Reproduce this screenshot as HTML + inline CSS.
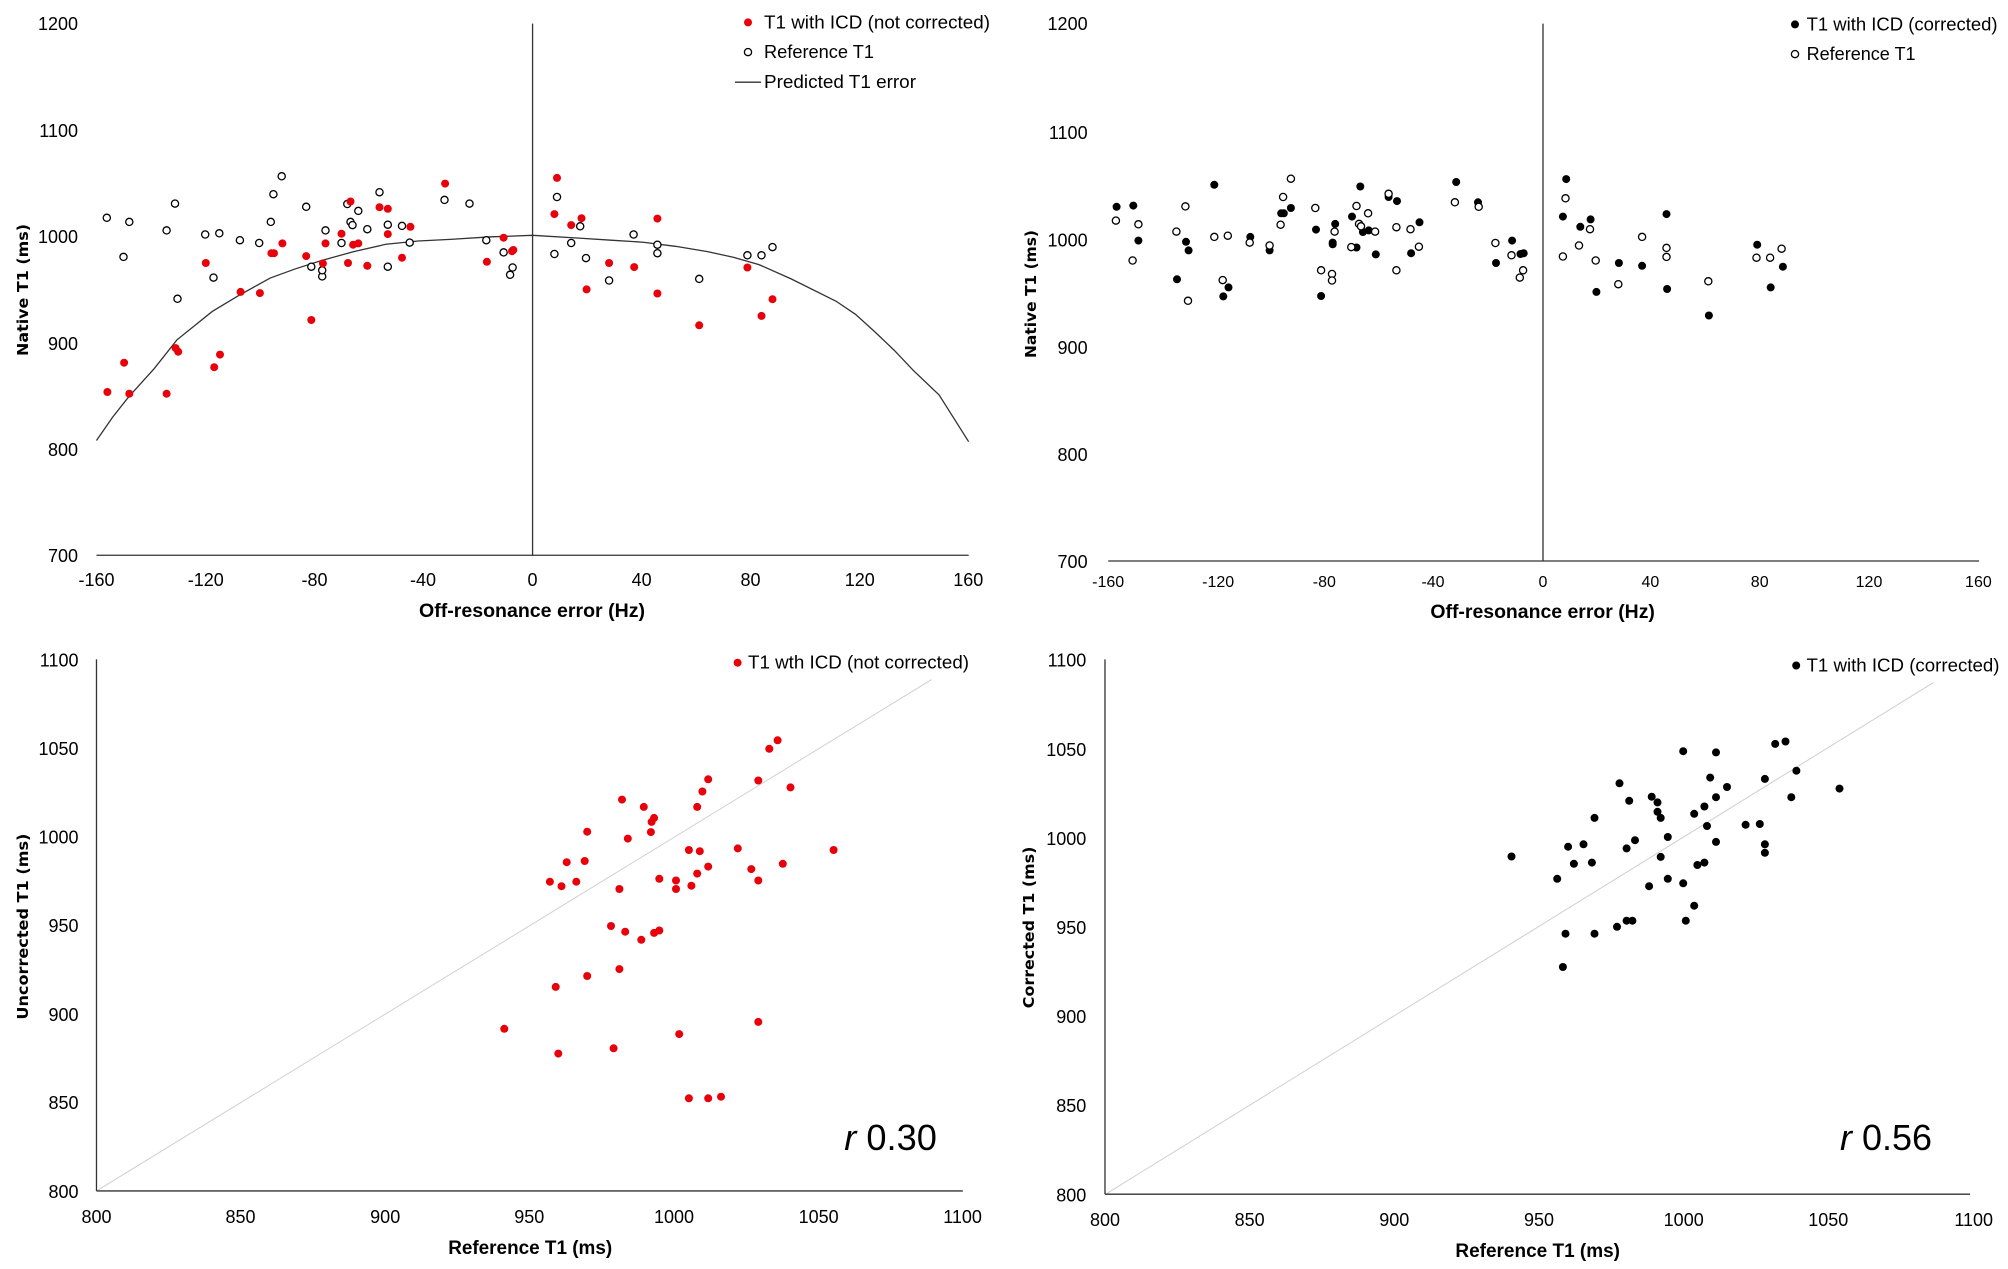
<!DOCTYPE html>
<html><head><meta charset="utf-8"><style>
html,body{margin:0;padding:0;background:#fff;width:2008px;height:1269px;overflow:hidden}
svg{position:absolute;display:block;overflow:hidden}
text{font-family:"Liberation Sans Narrow","Liberation Sans",sans-serif;fill:#000}
.tk{font-size:18px}
.tk2{font-size:16px}
.lg{font-size:18px}
.ti{font-size:19px;font-weight:bold}
.yt{font-family:"DejaVu Sans","Liberation Sans",sans-serif;font-size:15px;font-weight:bold}
.rr{font-size:36px}
.ln{vector-effect:non-scaling-stroke}
</style></head><body>
<svg id="p1" style="left:0;top:0" width="1004" height="635" viewBox="0 0 1004 635">
<g transform="scale(0.6432,0.4071)">
<line class="ln" x1="828" y1="58" x2="828" y2="1365" stroke="#333" stroke-width="1.3"/>
<line class="ln" x1="150" y1="1364" x2="1506" y2="1364" stroke="#333" stroke-width="1.3"/>
<polyline class="ln" fill="none" stroke="#333" stroke-width="1.3" points="150,1082 175,1025 200,975 240,905 275,835 330,765 370,727 420,683 460,660 500,640 550,618 600,600 650,592 700,588 760,582 828,578 900,585 950,590 1000,595 1050,605 1100,618 1140,632 1180,650 1230,685 1300,740 1330,772 1360,815 1390,860 1420,910 1460,970 1506,1085"/>
</g>
<g class="tk" text-anchor="end">
<text x="78" y="30">1200</text><text x="78" y="137">1100</text><text x="78" y="243">1000</text><text x="78" y="350">900</text><text x="78" y="456">800</text><text x="78" y="562">700</text></g>
<g class="tk" text-anchor="middle">
<text x="96.5" y="586">-160</text><text x="205.8" y="586">-120</text><text x="314.5" y="586">-80</text><text x="423" y="586">-40</text><text x="532.5" y="586">0</text><text x="641.7" y="586">40</text><text x="750.5" y="586">80</text><text x="859.8" y="586">120</text><text x="968.3" y="586">160</text></g>
<text class="ti" x="419" y="617" textLength="226" lengthAdjust="spacingAndGlyphs">Off-resonance error (Hz)</text>
<text class="yt" transform="translate(28,356) rotate(-90)" textLength="132" lengthAdjust="spacingAndGlyphs">Native T1 (ms)</text>
<circle cx="748" cy="22.4" r="4" fill="#e8000b"/>
<text class="lg" x="764" y="28.5" textLength="226" lengthAdjust="spacingAndGlyphs">T1 with ICD (not corrected)</text>
<circle cx="748" cy="52.1" r="3.6" fill="#fff" stroke="#000" stroke-width="1.3"/>
<text class="lg" x="764" y="58" textLength="110" lengthAdjust="spacingAndGlyphs">Reference T1</text>
<line x1="735" y1="82.2" x2="761" y2="82.2" stroke="#333" stroke-width="1.3"/>
<text class="lg" x="764" y="88" textLength="152" lengthAdjust="spacingAndGlyphs">Predicted T1 error</text>
</svg>
<svg id="p2" style="left:1004px;top:0" width="1004" height="635" viewBox="0 0 1004 635">
<g transform="scale(0.6432,0.4071)">
<line class="ln" x1="838" y1="58" x2="838" y2="1378" stroke="#333" stroke-width="1.3"/>
<line class="ln" x1="162" y1="1378" x2="1516" y2="1378" stroke="#333" stroke-width="1.3"/>
</g>
<g class="tk" text-anchor="end">
<text x="83.6" y="30">1200</text><text x="83.6" y="139">1100</text><text x="83.6" y="246.5">1000</text><text x="83.6" y="354">900</text><text x="83.6" y="461">800</text><text x="83.6" y="568">700</text></g>
<g class="tk2" text-anchor="middle">
<text x="104.2" y="587">-160</text><text x="214.2" y="587">-120</text><text x="320.3" y="587">-80</text><text x="429" y="587">-40</text><text x="538.9" y="587">0</text><text x="646.4" y="587">40</text><text x="755.7" y="587">80</text><text x="865" y="587">120</text><text x="974.4" y="587">160</text></g>
<text class="ti" x="426.4" y="618" textLength="224.5" lengthAdjust="spacingAndGlyphs">Off-resonance error (Hz)</text>
<text class="yt" transform="translate(32,358) rotate(-90)" textLength="128" lengthAdjust="spacingAndGlyphs">Native T1 (ms)</text>
<circle cx="791" cy="24.4" r="4" fill="#000"/>
<text class="lg" x="802.6" y="30.5" textLength="191" lengthAdjust="spacingAndGlyphs">T1 with ICD (corrected)</text>
<circle cx="791" cy="54.1" r="3.6" fill="#fff" stroke="#000" stroke-width="1.3"/>
<text class="lg" x="802.6" y="60" textLength="109" lengthAdjust="spacingAndGlyphs">Reference T1</text>
</svg>
<svg id="p3" style="left:0;top:635px" width="1004" height="634" viewBox="0 0 1004 634">
<g transform="scale(0.6432,0.4064)">
<line class="ln" x1="152" y1="1366" x2="1448" y2="110" stroke="#d0d0d0" stroke-width="1"/>
<line class="ln" x1="150" y1="60" x2="150" y2="1368" stroke="#333" stroke-width="1.3"/>
<line class="ln" x1="150" y1="1368" x2="1497" y2="1368" stroke="#333" stroke-width="1.3"/>
</g>
<g class="tk" text-anchor="end">
<text x="78.5" y="31.5">1100</text><text x="78.5" y="120">1050</text><text x="78.5" y="208.5">1000</text><text x="78.5" y="297">950</text><text x="78.5" y="386">900</text><text x="78.5" y="474">850</text><text x="78.5" y="563">800</text></g>
<g class="tk" text-anchor="middle">
<text x="96.5" y="588">800</text><text x="240.5" y="588">850</text><text x="385.2" y="588">900</text><text x="529.3" y="588">950</text><text x="674" y="588">1000</text><text x="818.6" y="588">1050</text><text x="962.6" y="588">1100</text></g>
<text class="ti" x="448.2" y="619" textLength="164" lengthAdjust="spacingAndGlyphs">Reference T1 (ms)</text>
<text class="yt" transform="translate(28,384.6) rotate(-90)" textLength="186" lengthAdjust="spacingAndGlyphs">Uncorrected T1 (ms)</text>
<circle cx="737.6" cy="27.7" r="4" fill="#e8000b"/>
<text class="lg" x="748" y="33.7" textLength="221" lengthAdjust="spacingAndGlyphs">T1 wth ICD (not corrected)</text>
<text class="rr" x="844.3" y="515" textLength="92.6" lengthAdjust="spacingAndGlyphs"><tspan font-style="italic">r</tspan> 0.30</text>
</svg>
<svg id="p4" style="left:1004px;top:635px" width="1004" height="634" viewBox="0 0 1004 634">
<g transform="scale(0.6432,0.4064)">
<line class="ln" x1="160" y1="1374" x2="1445" y2="117" stroke="#d0d0d0" stroke-width="1"/>
<line class="ln" x1="157" y1="60" x2="157" y2="1376" stroke="#333" stroke-width="1.3"/>
<line class="ln" x1="157" y1="1376" x2="1502" y2="1376" stroke="#333" stroke-width="1.3"/>
</g>
<g class="tk" text-anchor="end">
<text x="82.3" y="31.5">1100</text><text x="82.3" y="121">1050</text><text x="82.3" y="210">1000</text><text x="82.3" y="299">950</text><text x="82.3" y="388">900</text><text x="82.3" y="477">850</text><text x="82.3" y="566.5">800</text></g>
<g class="tk" text-anchor="middle">
<text x="101" y="591">800</text><text x="245.6" y="591">850</text><text x="390.3" y="591">900</text><text x="535" y="591">950</text><text x="679.7" y="591">1000</text><text x="824.3" y="591">1050</text><text x="969.7" y="591">1100</text></g>
<text class="ti" x="451.4" y="622" textLength="164.6" lengthAdjust="spacingAndGlyphs">Reference T1 (ms)</text>
<text class="yt" transform="translate(30,373.2) rotate(-90)" textLength="161.6" lengthAdjust="spacingAndGlyphs">Corrected T1 (ms)</text>
<circle cx="792.2" cy="30.5" r="4" fill="#000"/>
<text class="lg" x="802.5" y="36.5" textLength="193" lengthAdjust="spacingAndGlyphs">T1 with ICD (corrected)</text>
<text class="rr" x="836" y="515" textLength="92" lengthAdjust="spacingAndGlyphs"><tspan font-style="italic">r</tspan> 0.56</text>
</svg>
<script>
var NS="http://www.w3.org/2000/svg",SX=0.6432,SY=0.4071;
function pts(id,arr,fill,stroke){var s=document.getElementById(id);for(var i=0;i<arr.length;i+=2){var c=document.createElementNS(NS,"circle");c.setAttribute("cx",(arr[i]*SX).toFixed(1));c.setAttribute("cy",(arr[i+1]*SY).toFixed(1));c.setAttribute("r",stroke?3.6:4);c.setAttribute("fill",fill);if(stroke){c.setAttribute("stroke",stroke);c.setAttribute("stroke-width","1.3");}s.appendChild(c);}}
pts("p1",[166,535,192,631,201,545,259,566,272,500,276,734,319,576,332,682,341,573,373,590,403,597,421,545,425,477,438,433,476,508,484,655,501,679,501,664,506,566,531,597,540,501,545,545,548,553,557,518,571,563,590,472,603,552,603,655,625,555,637,596,691,491,730,500,756,590,783,620,793,675,797,657,862,624,866,484,888,597,902,556,911,634,947,689,985,576,1022,601,1022,622,1087,685,1162,627,1184,627,1201,607],"#fff","#000");
pts("p1",[167,963,193,891,201,967,259,967,273,855,277,864,320,646,333,902,342,871,374,717,404,720,422,622,426,622,439,598,476,629,484,786,502,647,506,598,531,574,545,495,541,646,549,601,557,598,571,653,590,509,603,513,603,575,625,633,638,557,692,451,757,643,783,584,796,617,798,614,862,526,866,437,888,553,904,536,912,711,947,646,986,656,1022,537,1022,721,1087,799,1162,657,1184,776,1201,735],"#e8000b");
pts("p2",[175,508,201,505,209,591,269,686,283,594,287,615,327,454,341,728,349,706,383,582,413,615,431,524,435,524,446,511,485,564,493,727,511,596,511,600,515,550,541,532,548,608,554,458,558,570,567,566,578,625,598,484,611,494,633,622,646,546,703,447,737,497,765,646,790,591,803,624,808,622,869,532,874,440,896,557,912,539,921,717,956,646,992,653,1030,526,1031,710,1096,775,1171,601,1192,706,1211,655],"#000");
pts("p2",[174,542,200,640,209,551,268,569,282,507,286,739,327,582,340,688,348,579,382,596,413,603,430,552,434,484,446,439,484,511,493,664,510,673,510,689,514,569,540,607,548,506,552,550,555,556,566,524,577,569,598,476,610,558,610,664,632,563,645,606,701,497,738,508,764,597,789,627,802,682,807,664,869,630,873,487,894,603,911,563,920,640,955,698,992,582,1030,609,1030,631,1095,691,1170,633,1191,633,1209,611],"#fff","#000");
SY=0.4064;
pts("p3",[784,969,855,607,864,866,868,1030,873,618,881,559,896,607,909,556,913,484,913,839,950,716,954,1017,963,625,963,822,967,405,972,730,976,501,997,750,1001,423,1012,485,1013,460,1017,450,1017,733,1025,600,1025,727,1051,604,1051,625,1056,982,1071,529,1071,1140,1075,617,1084,587,1084,423,1088,532,1092,385,1101,355,1101,570,1101,1140,1121,1136,1147,525,1168,576,1179,358,1179,604,1179,952,1196,280,1209,259,1217,563,1229,375,1296,529],"#e8000b");
pts("p4",[789,545,860,600,869,817,873,735,877,521,886,563,901,515,914,560,918,735,918,450,953,718,957,365,968,703,968,525,972,408,977,703,981,505,1003,618,1007,398,1016,412,1016,435,1021,546,1021,450,1032,600,1032,497,1056,286,1056,611,1060,703,1073,440,1073,666,1078,566,1089,422,1089,560,1093,470,1098,351,1107,289,1107,399,1107,509,1124,374,1153,467,1175,465,1183,354,1183,515,1183,536,1199,268,1215,262,1224,399,1232,334,1299,378],"#000");
</script>
</body></html>
